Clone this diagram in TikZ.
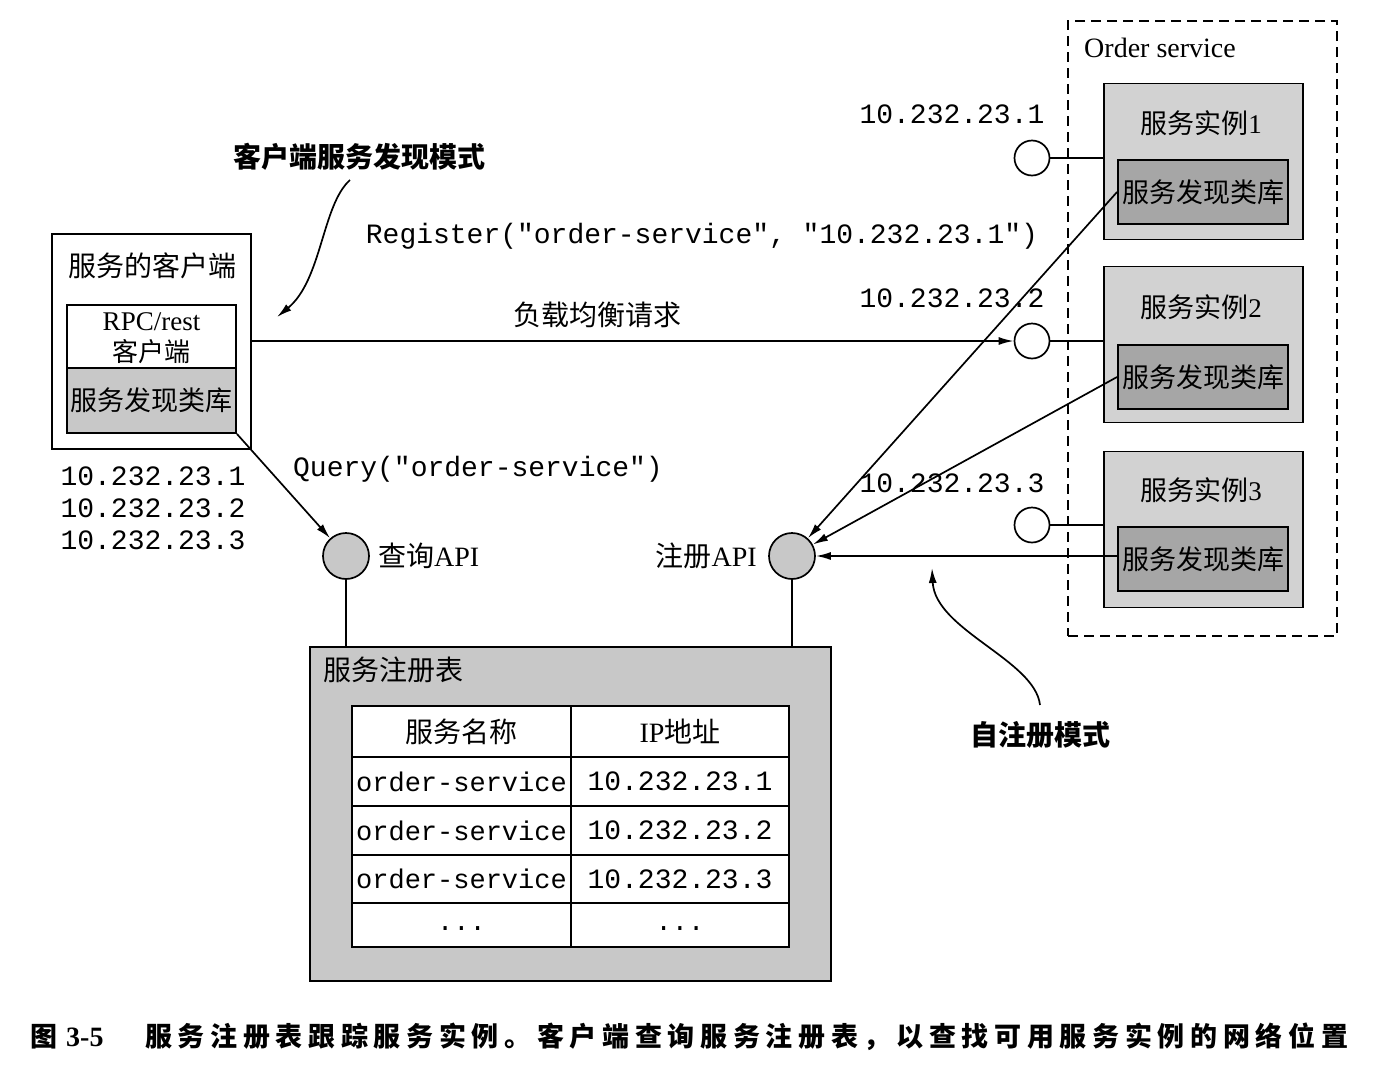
\documentclass[tikz,border=0pt]{standalone}
\usepackage{fontspec}
\setmainfont{Liberation Serif}
\setmonofont{Liberation Mono}
\newfontfamily\cjk{Noto Sans CJK SC}
\newfontfamily\cjkcap[LetterSpace=21]{Noto Sans CJK SC}
\usetikzlibrary{arrows.meta}
\definecolor{grayA}{HTML}{C8C8C8}
\definecolor{grayB}{HTML}{D2D2D2}
\definecolor{grayC}{HTML}{A6A6A6}
\tikzset{
  ln/.style={line width=1.7pt},
  arr/.style={line width=1.7pt, -{Latex[length=15pt,width=8pt]}},
  box/.style={draw, line width=1.9pt, inner sep=0pt},
  zh/.style={font=\cjk\fontsize{28}{30}\selectfont, inner sep=0pt},
  zhlib/.style={font=\cjk\fontsize{27}{29}\selectfont, inner sep=0pt},
  zhb/.style={font=\cjk\bfseries\fontsize{28}{30}\selectfont, inner sep=0pt},
  mono/.style={font=\ttfamily\fontsize{28}{32}\selectfont, inner sep=0pt},
  monos/.style={font=\ttfamily\fontsize{27}{30}\selectfont, inner sep=0pt},
  lat/.style={font=\fontsize{28}{30}\selectfont, inner sep=0pt},
  api/.style={draw, circle, line width=1.7pt, fill=grayA, minimum size=46pt, inner sep=0pt},
  port/.style={draw, circle, line width=1.7pt, fill=white, minimum size=35pt, inner sep=0pt},
  cell/.style={draw, line width=1.9pt, fill=white, inner sep=0pt}
}
\begin{document}
\begin{tikzpicture}[x=1pt,y=-1pt]
\fill[white] (0,0) rectangle (1393,1066);
\useasboundingbox (0,0) rectangle (1393,1066);

% ---------- client ----------
\node[zhb] (ctitle) at (359,157) {客户端服务发现模式};
\node[box, fill=white, minimum width=199pt, minimum height=215pt] (client) at (151.5,341.5) {};
\node[zh] (clientlbl) at (152,266) {服务的客户端};
\node[box, fill=white, minimum width=169pt, minimum height=63pt] (rpc) at (151.5,336.5) {};
\node[lat, font=\fontsize{27}{29}\selectfont] (rpclbl) at (151.5,322) {RPC/rest};
\node[zh, font=\cjk\fontsize{26}{28}\selectfont] (rpclbl2) at (151.5,352) {客户端};
\node[box, fill=grayA, minimum width=169pt, minimum height=65pt] (clib) at (151.5,400.5) {};
\node[zhlib] (cliblbl) at (clib) {服务发现类库};
\node[mono] (cip1) at (153,476) {10.232.23.1};
\node[mono] (cip2) at (153,508) {10.232.23.2};
\node[mono] (cip3) at (153,540) {10.232.23.3};

\coordinate (a1s) at (350,180);
\coordinate (a1e) at (277,317);
\draw[arr] (a1s) .. controls (322,205) and (322,280) .. (a1e);

% ---------- message labels ----------
\node[mono] (reglbl) at (702,236) {Register("order-service", "10.232.23.1")};
\node[zh] (lblbl) at (597,315) {负载均衡请求};
\node[mono] (querylbl) at (478,469) {Query("order-service")};

% ---------- APIs ----------
\node[api] (qapi) at (346,556) {};
\node[lat, anchor=west] (qapilbl) at (378,556) {{\cjk 查询}API};
\node[api] (rapi) at (792,556) {};
\node[lat, anchor=east] (rapilbl) at (757,556) {{\cjk 注册}API};

% ---------- registry ----------
\node[box, fill=grayA, minimum width=521pt, minimum height=334pt] (reg) at (570.5,814) {};
\node[zh, anchor=west] (reglbl2) at (323,670) {服务注册表};
\node[cell, minimum width=219pt, minimum height=51pt] (h1) at (461.5,731.5) {};
\node[cell, minimum width=218pt, minimum height=51pt] (h2) at (680,731.5) {};
\node[zh] at (h1) {服务名称};
\node[lat] at (h2) {IP{\cjk 地址}};
\node[cell, minimum width=219pt, minimum height=49pt] (r1a) at (461.5,781.5) {};
\node[cell, minimum width=218pt, minimum height=49pt] (r1b) at (680,781.5) {};
\node[cell, minimum width=219pt, minimum height=49pt] (r2a) at (461.5,830.5) {};
\node[cell, minimum width=218pt, minimum height=49pt] (r2b) at (680,830.5) {};
\node[cell, minimum width=219pt, minimum height=48pt] (r3a) at (461.5,879) {};
\node[cell, minimum width=218pt, minimum height=48pt] (r3b) at (680,879) {};
\node[cell, minimum width=219pt, minimum height=44pt] (r4a) at (461.5,925) {};
\node[cell, minimum width=218pt, minimum height=44pt] (r4b) at (680,925) {};
\node[monos] at (r1a) {order-service};
\node[mono] at (r1b) {10.232.23.1};
\node[monos] at (r2a) {order-service};
\node[mono] at (r2b) {10.232.23.2};
\node[monos] at (r3a) {order-service};
\node[mono] at (r3b) {10.232.23.3};
\node[monos] at (461.5,929) {...};
\node[monos] at (680,929) {...};

\draw[ln] (qapi) -- (qapi |- reg.north);
\draw[ln] (rapi) -- (rapi |- reg.north);

% ---------- order service ----------
\node[draw, line width=1.7pt, dash pattern=on 10pt off 6pt, minimum width=269pt, minimum height=615pt, inner sep=0pt] (os) at (1202.5,328.5) {};
\node[lat, anchor=west] (oslbl) at (1084,48) {Order service};

\node[box, fill=grayB, minimum width=199pt, minimum height=156pt] (inst1) at (1203.5,161.5) {};
\node[box, fill=grayB, minimum width=199pt, minimum height=156pt] (inst2) at (1203.5,344.5) {};
\node[box, fill=grayB, minimum width=199pt, minimum height=156pt] (inst3) at (1203.5,529.5) {};
\node[lat, font=\fontsize{27}{29}\selectfont] at (1201,123) {{\cjk 服务实例}1};
\node[lat, font=\fontsize{27}{29}\selectfont] at (1201,307) {{\cjk 服务实例}2};
\node[lat, font=\fontsize{27}{29}\selectfont] at (1201,490) {{\cjk 服务实例}3};
\node[box, fill=grayC, minimum width=170pt, minimum height=64pt] (lib1) at (1203,192) {};
\node[box, fill=grayC, minimum width=170pt, minimum height=64pt] (lib2) at (1203,377) {};
\node[box, fill=grayC, minimum width=170pt, minimum height=64pt] (lib3) at (1203,559) {};
\node[zhlib] at (lib1) {服务发现类库};
\node[zhlib] at (lib2) {服务发现类库};
\node[zhlib] at (lib3) {服务发现类库};

\node[port] (c1) at (1032,158) {};
\node[port] (c2) at (1032,341) {};
\node[port] (c3) at (1032,525) {};
\node[mono] (ip1) at (952,114) {10.232.23.1};
\node[mono] (ip2) at (952,298) {10.232.23.2};
\node[mono] (ip3) at (952,483) {10.232.23.3};
\draw[ln] (c1) -- (c1 -| inst1.west);
\draw[ln] (c2) -- (c2 -| inst2.west);
\draw[ln] (c3) -- (c3 -| inst3.west);

% ---------- connectors ----------
\draw[arr] (client.east |- c2) -- (c2);
\draw[arr] (clib.south east) -- (qapi);
\draw[arr] (lib1.west) -- (rapi);
\draw[arr] (lib2.west) -- (rapi);
\draw[arr] (lib3.west |- rapi) -- (rapi);

\node[zhb] (selflbl) at (1040,735) {自注册模式};
\coordinate (a2s) at (1040,705);
\coordinate (a2e) at (932,568);
\draw[arr] (a2s) .. controls (1035,660) and (935,630) .. (a2e);

% ---------- caption ----------
\node[anchor=west, inner sep=0pt, font=\bfseries\fontsize{28}{30}\selectfont] (capnum) at (30,1037) {{\cjk\fontsize{27}{29}\selectfont 图}\hspace{9pt}3-5};
\node[anchor=west, inner sep=0pt, font=\cjkcap\bfseries\fontsize{27}{29}\selectfont] (captxt) at (145,1037) {服务注册表跟踪服务实例。客户端查询服务注册表，以查找可用服务实例的网络位置};
\end{tikzpicture}
\end{document}
